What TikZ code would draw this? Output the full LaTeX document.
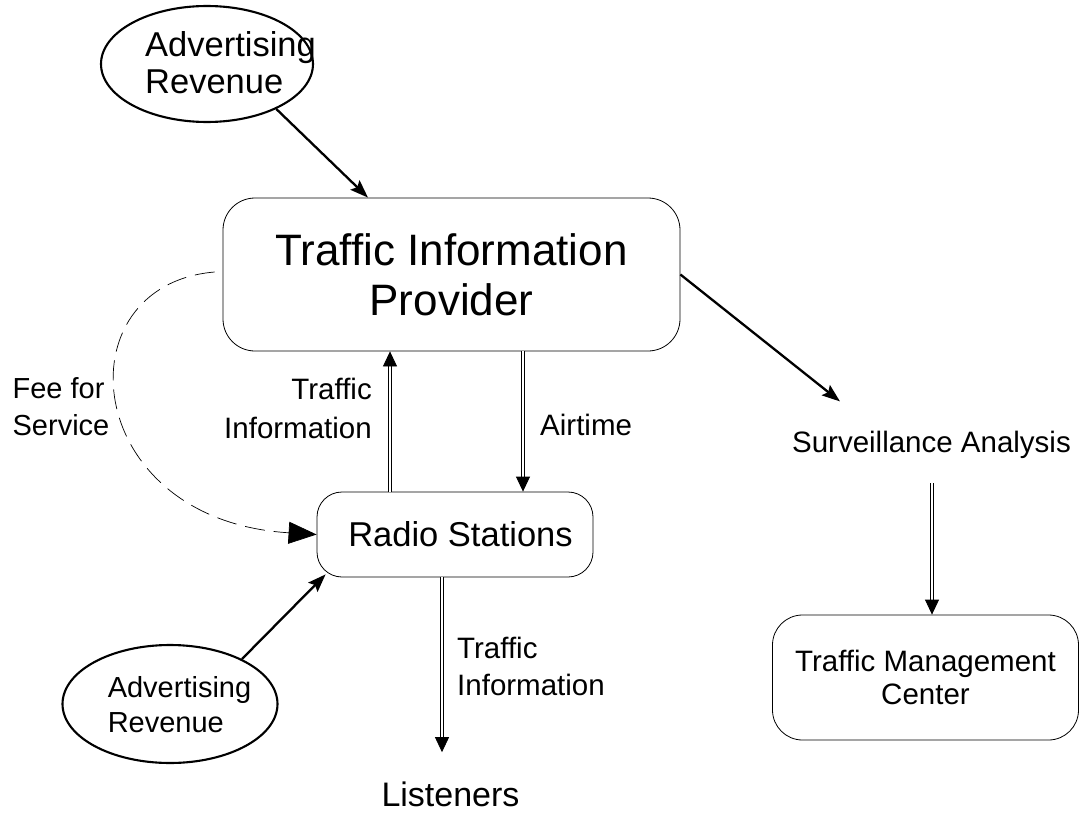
\documentclass[tikz,border=0pt]{standalone}
\usepackage{fontspec}
\setmainfont{Liberation Sans}
\usetikzlibrary{arrows.meta,shapes.geometric,calc}
\begin{document}
\begin{tikzpicture}[x=1pt,y=-1pt,
 box/.style={draw,line width=0.8pt,rounded corners=#1,inner sep=0pt,align=center},
 adv/.style={draw,ellipse,line width=2.1pt,inner sep=0pt},
 txt/.style={inner sep=0pt},
 solidarrow/.style={line width=2.3pt,-{Stealth[length=18pt,width=13pt,inset=3pt]}},
 dblarrow/.style={double,double distance=2.4pt,line width=0.8pt,-{Triangle[length=15pt,width=14pt]}},
 feearrow/.style={line width=0.7pt,dash pattern=on 20pt off 9pt,-{Triangle[length=28pt,width=22pt]}},
]
\useasboundingbox (0,0) rectangle (1080,816);

% nodes
\node[adv,minimum width=212pt,minimum height=116pt] (ad1) at (207,64) {};
\node[txt,align=left,font=\fontsize{34.5}{37}\selectfont] (ad1t) at (230.5,63) {Advertising\\Revenue};

\node[box=32pt,minimum width=457pt,minimum height=153pt,font=\fontsize{44}{50}\selectfont] (tip) at (451.5,274.5) {Traffic Information\\Provider};

\node[box=25pt,minimum width=276pt,minimum height=85pt,font=\fontsize{34.5}{40}\selectfont] (radio) at (455,534.5) {\hspace*{11pt}Radio Stations};

\node[box=30pt,minimum width=306pt,minimum height=125pt,font=\fontsize{29.5}{33}\selectfont] (tmc) at (925.5,677.5) {Traffic Management\\Center};

\node[txt,font=\fontsize{29.5}{33}\selectfont,anchor=base] (surv) at (931.5,452) {Surveillance Analysis};

\node[txt,font=\fontsize{34}{40}\selectfont,anchor=base] (lis) at (450.5,806) {Listeners};

\node[adv,minimum width=215pt,minimum height=118pt] (ad2) at (170,704) {};
\node[txt,align=left,font=\fontsize{29}{35}\selectfont] (ad2t) at (179.5,705) {Advertising\\Revenue};

\node[txt,align=left,font=\fontsize{29}{37}\selectfont] (fee) at (61,407) {Fee for\\Service};
\node[txt,align=right,font=\fontsize{29.5}{39}\selectfont] (ti1) at (298,408) {Traffic\\Information};
\node[txt,font=\fontsize{29.5}{33}\selectfont,anchor=base west] (air) at (540,435) {Airtime};
\node[txt,align=left,font=\fontsize{29.5}{37}\selectfont] (ti2) at (531,666) {Traffic\\Information};

% connectors
\draw[solidarrow] (ad1.-33) -- ([xshift=-83.5pt]tip.north);
\draw[solidarrow] (tip.east) -- ([xshift=-91.5pt,yshift=29pt]surv.north);
\draw[solidarrow] (ad2.32) -- ([xshift=9pt,yshift=3pt]radio.south west);
\draw[feearrow] ([xshift=-8pt,yshift=2.5pt]tip.west) .. controls (60,285) and (80,520) .. (radio.west);
\draw[dblarrow] (390,0 |- radio.north) -- (390,0 |- tip.south);
\draw[dblarrow] (523,0 |- tip.south) -- (523,0 |- radio.north);
\draw[dblarrow,shorten >=29pt] (442,0 |- radio.south) -- (442,0 |- lis.north);
\draw[dblarrow,shorten <=25pt] (932,0 |- surv.south) -- (932,0 |- tmc.north);
\end{tikzpicture}
\end{document}
